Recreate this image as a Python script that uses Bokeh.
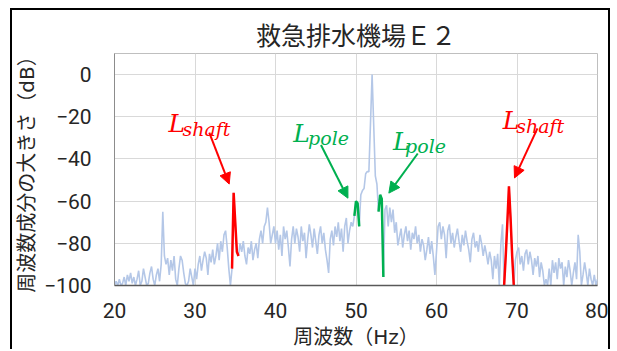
import numpy as np
from bokeh.plotting import figure
from bokeh.models import Label, Arrow, NormalHead, FixedTicker, Range1d
from bokeh.embed import file_html
from bokeh.resources import INLINE

title_text = "救急排水機場Ｅ２"
x_label = "周波数（Hz）"
y_label = "周波数成分の大きさ（dB）"
x_ticks = [20, 30, 40, 50, 60, 70, 80]
y_ticks = [-100, -80, -60, -40, -20, 0]
y_tick_labels = ["−100", "−80", "−60", "−40", "−20", "0"]

f_start = 20.0
f_step = 0.2

db_20s = [-100, -98, -100, -97, -100, -99, -96, -100, -95, -98,
          -94, -99, -96, -100, -97, -93, -100, -98, -92, -96,
          -100, -99, -94, -91, -97, -100, -95, -92, -98, -90,
          -65, -86, -90, -87, -95, -88, -93, -86, -97, -100,
          -92, -86, -88, -94, -99, -100, -98, -92, -96, -100]
db_30s = [-92, -97, -90, -86, -93, -88, -84, -87, -95, -85,
          -89, -83, -90, -86, -80, -88, -79, -84, -76, -74,
          -82, -92, -100, -92, -56, -70, -84, -86, -80, -84,
          -79, -86, -90, -82, -85, -79, -88, -83, -80, -87,
          -78, -74, -80, -72, -70, -63, -70, -80, -76, -72]
db_40s = [-80, -74, -83, -76, -86, -72, -78, -74, -82, -91,
          -78, -72, -80, -73, -77, -84, -72, -79, -75, -87,
          -78, -71, -76, -82, -73, -79, -85, -76, -72, -80,
          -75, -83, -88, -94, -78, -74, -81, -72, -77, -70,
          -79, -73, -84, -72, -68, -80, -74, -70, -72, -67]
db_50s = [-60, -61, -72, -57, -55, -54, -47, -46, -46, -23,
          0, -24, -48, -52, -65, -57, -59, -96, -64, -62,
          -72, -63, -70, -64, -75, -70, -81, -77, -73, -82,
          -76, -72, -79, -74, -83, -75, -78, -72, -80, -76,
          -84, -78, -81, -88, -83, -77, -85, -79, -86, -95]
db_60s = [-84, -72, -70, -78, -72, -76, -87, -74, -71, -80,
          -75, -82, -77, -73, -79, -84, -76, -81, -74, -79,
          -83, -89, -78, -75, -82, -79, -84, -76, -80, -86,
          -81, -85, -90, -84, -88, -97, -86, -92, -85, -100,
          -80, -71, -100, -86, -70, -53, -68, -86, -100, -88]
db_70s = [-84, -82, -90, -86, -93, -85, -83, -90, -84, -88,
          -95, -87, -91, -86, -96, -89, -93, -100, -97, -100,
          -92, -100, -88, -94, -89, -97, -87, -92, -89, -100,
          -91, -96, -88, -93, -100, -94, -89, -97, -76, -84,
          -100, -95, -89, -94, -100, -92, -97, -100, -95, -100,
          -97]

spectrum_db = db_20s + db_30s + db_40s + db_50s + db_60s + db_70s
freq_hz = np.round(f_start + f_step * np.arange(len(spectrum_db)), 1)

shaft_low_f = [34.6, 34.8, 35.0, 35.2, 35.4]
shaft_low_db = [-92, -56, -70, -84, -86]
shaft_high_f = [68.4, 68.6, 68.8, 69.0, 69.2, 69.4, 69.6]
shaft_high_db = [-100, -86, -70, -53, -68, -86, -100]
pole_low_f = [49.8, 50.0, 50.2, 50.4]
pole_low_db = [-67, -60, -61, -72]
pole_high_f = [52.8, 53.0, 53.2, 53.4]
pole_high_db = [-65, -57, -59, -96]

RED = "#ff0000"
GREEN = "#00b050"
BLUE = "#b4c7e7"

p = figure(width=600, height=341, x_range=Range1d(20, 80), y_range=Range1d(-100, 10),
           output_backend="svg", toolbar_location=None, title=title_text,
           min_border_left=101, min_border_right=15, min_border_top=43, min_border_bottom=66,
           styles={"border-top": "2px solid black", "border-left": "2px solid black",
                   "border-right": "2px solid black"})
p.margin = (8, 0, 0, 10)
p.background_fill_color = "white"
p.border_fill_color = "white"
p.outline_line_color = "#bfbfbf"

p.title.align = "center"
p.title.text_font = "Noto Sans CJK JP"
p.title.text_font_size = "25px"
p.title.text_font_style = "normal"
p.title.text_color = "#262626"
p.title.standoff = 4

p.line(freq_hz, spectrum_db, line_color=BLUE, line_width=1.6)
p.line(shaft_low_f, shaft_low_db, line_color=RED, line_width=2.5)
p.line(shaft_high_f, shaft_high_db, line_color=RED, line_width=2.5)
p.line(pole_low_f, pole_low_db, line_color=GREEN, line_width=2.5)
p.line(pole_high_f, pole_high_db, line_color=GREEN, line_width=2.5)

p.xaxis.ticker = FixedTicker(ticks=x_ticks)
p.yaxis.ticker = FixedTicker(ticks=y_ticks)
p.yaxis.major_label_overrides = {t: s for t, s in zip(y_ticks, y_tick_labels)}
for ax in (p.xaxis, p.yaxis):
    ax.major_tick_line_color = None
    ax.minor_tick_line_color = None
    ax.major_label_text_font = "Roboto"
    ax.major_label_text_font_size = "21px"
    ax.major_label_text_color = "#262626"
    ax.axis_label_text_font = "DejaVu Sans, Noto Sans CJK JP"
    ax.axis_label_text_font_size = "20px"
    ax.axis_label_text_font_style = "normal"
    ax.axis_label_text_color = "#262626"
p.xaxis.axis_label = x_label
p.yaxis.axis_label = y_label
p.xaxis.axis_line_color = "#595959"
p.xaxis.axis_line_width = 1.5
p.yaxis.axis_line_color = "#8c8c8c"
p.yaxis.axis_line_width = 1
p.yaxis.major_label_standoff = 17
p.xaxis.major_label_standoff = 11
p.yaxis.axis_label_standoff = 2
p.xaxis.axis_label_standoff = 4

p.xgrid.grid_line_color = "#d9d9d9"
p.ygrid.grid_line_color = "#d9d9d9"
p.xgrid.grid_line_width = 1
p.ygrid.grid_line_width = 1


def math_label(x, y, xs, ys, sub, color):
    p.add_layout(Label(x=x, y=y, text="L", text_font="DejaVu Serif", text_font_style="italic",
                       text_font_size="25px", text_color=color, text_baseline="alphabetic"))
    p.add_layout(Label(x=xs, y=ys, text=sub, text_font="DejaVu Serif", text_font_style="italic",
                       text_font_size="19px", text_color=color, text_baseline="alphabetic"))


def arrow(x0, y0, x1, y1, color):
    p.add_layout(Arrow(end=NormalHead(size=11, fill_color=color, line_color=color),
                       x_start=x0, y_start=y0, x_end=x1, y_end=y1,
                       line_color=color, line_width=2))


math_label(26.70, -23.4, 28.45, -25.6, "shaft", RED)
math_label(68.23, -21.9, 69.90, -24.2, "shaft", RED)
math_label(42.20, -27.8, 44.05, -30.2, "pole", GREEN)
math_label(54.60, -31.6, 56.10, -34.0, "pole", GREEN)
arrow(31.77, -27.5, 34.25, -51.9, RED)
arrow(72.54, -25.5, 69.69, -49.0, RED)
arrow(45.65, -33.4, 49.0, -58.6, GREEN)
arrow(57.67, -37.4, 54.08, -56.2, GREEN)

open("out.html", "w").write(file_html(p, INLINE))
